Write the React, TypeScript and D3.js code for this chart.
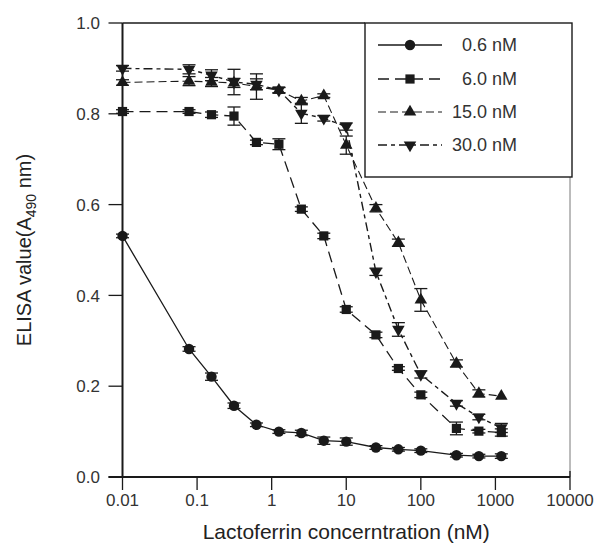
import React from "react";
import * as d3 from "d3";

// lactoferrin concentration (nM); 0 plotted at 0.01
const conc = [0.01, 0.078, 0.156, 0.3125, 0.625, 1.25, 2.5, 5, 10, 25, 50, 100, 300, 600, 1200];

const s06 = [0.531, 0.282, 0.221, 0.157, 0.115, 0.1, 0.097, 0.08, 0.078, 0.065, 0.061, 0.058, 0.048, 0.046, 0.046];
const s60 = [0.805, 0.805, 0.798, 0.795, 0.737, 0.733, 0.59, 0.531, 0.369, 0.313, 0.239, 0.181, 0.107, 0.101, 0.098];
const s15 = [0.869, 0.872, 0.87, 0.868, 0.86, 0.852, 0.828, 0.84, 0.731, 0.592, 0.516, 0.39, 0.25, 0.184, 0.178];
const s30 = [0.9, 0.898, 0.885, 0.87, 0.865, 0.852, 0.801, 0.79, 0.772, 0.452, 0.325, 0.226, 0.162, 0.132, 0.108];

const e06 = [0.004, 0.005, 0.008, 0.006, 0.004, 0.004, 0.006, 0.008, 0.008, 0.004, 0.004, 0.004, 0.004, 0.004, 0.005];
const e60 = [0.004, 0.004, 0.006, 0.02, 0.005, 0.012, 0.005, 0.006, 0.006, 0.006, 0.004, 0.006, 0.014, 0.004, 0.008];
const e15 = [0.006, 0.01, 0.01, 0.01, 0.028, 0.006, 0.008, 0.004, 0.02, 0.008, 0.008, 0.025, 0.008, 0.008, 0];
const e30 = [0.006, 0.01, 0.012, 0.028, 0.012, 0.006, 0.022, 0.006, 0.008, 0.008, 0.015, 0.008, 0.006, 0.006, 0.01];

const xTicks = [0.01, 0.1, 1, 10, 100, 1000, 10000];
const xTickLabels = ["0.01", "0.1", "1", "10", "100", "1000", "10000"];
const yTicks = [0, 0.2, 0.4, 0.6, 0.8, 1.0];

const series = [
  { name: "0.6 nM", values: s06, errs: e06, shape: "circle", dash: "", sw: 1.3 },
  { name: "6.0 nM", values: s60, errs: e60, shape: "square", dash: "11,6", sw: 1.3 },
  { name: "15.0 nM", values: s15, errs: e15, shape: "up", dash: "8,4", sw: 1.1 },
  { name: "30.0 nM", values: s30, errs: e30, shape: "down", dash: "9,4,4,4", sw: 1.4 },
];

const font = "'Liberation Sans', Arial, Helvetica, sans-serif";
const ink = "#1a1a1a";

const Marker = ({ shape, x, y }: { shape: string; x: number; y: number }) => {
  if (shape === "circle") return <circle cx={x} cy={y} r={5.2} fill={ink} />;
  if (shape === "square") return <rect x={x - 4.6} y={y - 4.6} width={9.2} height={9.2} fill={ink} />;
  const p = d3.symbol().type(d3.symbolTriangle).size(68)();
  return (
    <path d={p || ""} transform={`translate(${x},${y})${shape === "down" ? " rotate(180)" : ""}`} fill={ink} />
  );
};

export default function App() {
  const left = 122.5;
  const right = 570;
  const top = 23;
  const bottom = 477;

  const x = d3.scaleLog().domain([0.01, 10000]).range([left, right]);
  const y = d3.scaleLinear().domain([0, 1]).range([bottom, top]);

  const line = d3
    .line<number>()
    .x((_, i) => x(conc[i]))
    .y((d) => y(d));

  const legX = 365;
  const legRight = 572;
  const legBottom = 177;
  const legRows = [45, 79, 112, 145];

  return (
    <svg
      width={602}
      height={545}
      style={{ position: "absolute", left: 0, top: 0, background: "#fff" }}
      fontFamily={font}
    >
      {/* frame */}
      <line x1={left} x2={legX} y1={top} y2={top} stroke={ink} strokeWidth={1.4} />
      <line x1={right} x2={right} y1={legBottom} y2={bottom} stroke="#555" strokeWidth={0.8} />
      <line x1={left} x2={left} y1={top} y2={bottom} stroke={ink} strokeWidth={2} />
      <line x1={left - 14} x2={right} y1={bottom} y2={bottom} stroke={ink} strokeWidth={1.8} />

      {/* y axis */}
      {yTicks.map((t) => (
        <g key={t}>
          <line x1={left - 14} x2={left} y1={y(t)} y2={y(t)} stroke={ink} strokeWidth={1.3} />
          <text x={100} y={y(t)} dy="0.36em" textAnchor="end" fontSize={17} fill="#333">
            {t.toFixed(1)}
          </text>
        </g>
      ))}

      {/* x axis */}
      {xTicks.map((t, i) => (
        <g key={t}>
          <line x1={x(t)} x2={x(t)} y1={bottom - (i === 6 ? 6 : 0)} y2={bottom + 13} stroke={ink} strokeWidth={1.3} />
          <text x={x(t)} y={506} textAnchor="middle" fontSize={17} fill="#333">
            {xTickLabels[i]}
          </text>
        </g>
      ))}

      <text x={(left + right) / 2} y={539} textAnchor="middle" fontSize={21} fill="#222">
        Lactoferrin concerntration (nM)
      </text>
      <text transform={`translate(31,${(top + bottom) / 2}) rotate(-90)`} textAnchor="middle" fontSize={20} fill="#222">
        ELISA value(A
        <tspan fontSize={14} dy={5}>490</tspan>
        <tspan dy={-5}> nm)</tspan>
      </text>

      {/* series */}
      {series.map((s) => (
        <g key={s.name}>
          <path d={line(s.values) || ""} fill="none" stroke={ink} strokeWidth={s.sw} strokeDasharray={s.dash} />
          {s.values.map((v, i) => {
            const cx = x(conc[i]);
            const e = s.errs[i];
            if (!e) return null;
            return (
              <g key={i} stroke={ink} strokeWidth={1.3}>
                <line x1={cx} x2={cx} y1={y(v + e)} y2={y(v - e)} />
                <line x1={cx - 6.5} x2={cx + 6.5} y1={y(v + e)} y2={y(v + e)} />
                <line x1={cx - 6.5} x2={cx + 6.5} y1={y(v - e)} y2={y(v - e)} />
              </g>
            );
          })}
          {s.values.map((v, i) => (
            <Marker key={i} shape={s.shape} x={x(conc[i])} y={y(v)} />
          ))}
        </g>
      ))}

      {/* legend */}
      <rect x={legX} y={top} width={legRight - legX} height={legBottom - top} fill="#fff" stroke={ink} strokeWidth={1.4} />
      {series.map((s, i) => (
        <g key={s.name}>
          <line x1={378} x2={442} y1={legRows[i]} y2={legRows[i]} stroke={ink} strokeWidth={s.sw} strokeDasharray={s.dash} />
          <Marker shape={s.shape} x={410} y={legRows[i]} />
          <text x={517} y={legRows[i]} dy="0.36em" textAnchor="end" fontSize={18} fill="#333">
            {s.name}
          </text>
        </g>
      ))}
    </svg>
  );
}
